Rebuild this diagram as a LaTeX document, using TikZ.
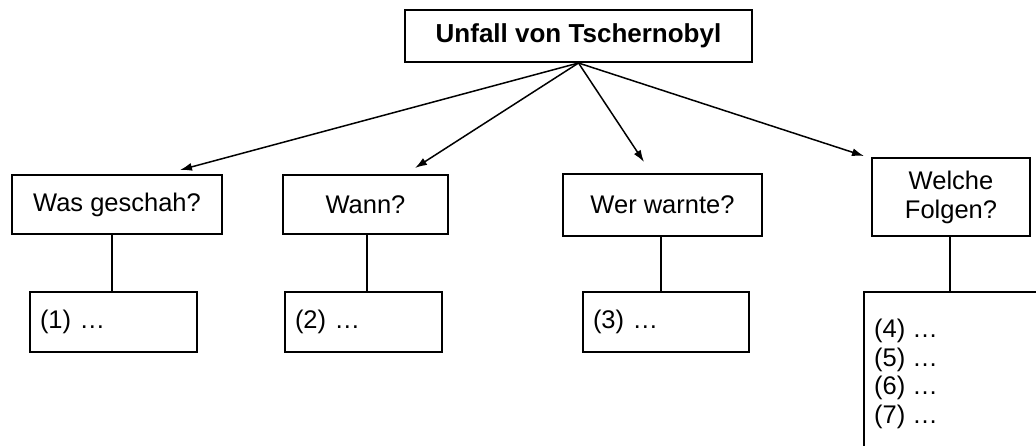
\documentclass[tikz,border=0pt]{standalone}
\usepackage{fontspec}
\setmainfont{Liberation Sans}
\usetikzlibrary{arrows.meta}
\begin{document}
\begin{tikzpicture}[x=1pt,y=-1pt,
  box/.style={draw=black, line width=2pt, inner sep=0pt, fill=white},
  label/.style={font=\fontsize{25.5}{29}\selectfont},
  arr/.style={line width=1.5pt, -{Latex[length=12pt,width=8pt]}},
  link/.style={line width=1.2pt}]
\useasboundingbox (0,0) rectangle (1036,445);
\clip (0,0) rectangle (1036,445);

% title
\node[box, minimum width=347pt, minimum height=52pt,
      font=\fontsize{26}{30}\selectfont\bfseries] (top) at (578.5,36) {Unfall von Tschernobyl};

% question boxes
\node[box, label, minimum width=210pt, minimum height=59pt] (q1) at (117,204.5) {Was geschah?};
\node[box, label, minimum width=165pt, minimum height=59pt] (q2) at (365.5,204.5) {Wann?};
\node[box, label, minimum width=199pt, minimum height=62pt] (q3) at (662.5,205) {Wer warnte?};
\node[box, label, minimum width=158pt, minimum height=78pt, align=center] (q4) at (951,197) {Welche\\Folgen?};

% answer boxes
\node[box, label, minimum width=167pt, minimum height=60pt, text width=147pt, align=left] (a1) at (113.5,322) {(1) \dots};
\node[box, label, minimum width=157pt, minimum height=60pt, text width=137pt, align=left] (a2) at (363.5,322) {(2) \dots};
\node[box, label, minimum width=166pt, minimum height=60pt, text width=146pt, align=left] (a3) at (666,322) {(3) \dots};
\node[box, minimum width=200pt, minimum height=180pt] (a4) at (964,382) {};
\node[label, anchor=north west, align=left, inner sep=0pt,
      font=\fontsize{25.5}{28.5}\selectfont] (a4t) at (874,319) {(4) \dots\\(5) \dots\\(6) \dots\\(7) \dots};

% arrow tips
\coordinate (t1) at (180,170);
\coordinate (t2) at (415,168);
\coordinate (t3) at (644,162);
\coordinate (t4) at (864,156);

\draw[arr] (top.south) -- (t1);
\draw[arr] (top.south) -- (t2);
\draw[arr] (top.south) -- (t3);
\draw[arr] (top.south) -- (t4);

% question to answer links
\draw[link] (q1.south -| a1.north) ++(-1.5,0) coordinate (l1) -- (l1 |- a1.north);
\draw[link] (367,234) coordinate (l2) -- (l2 |- a2.north);
\draw[link] (q3.south) ++(-1.5,0) coordinate (l3) -- (l3 |- a3.north);
\draw[link] (q4.south) ++(-1,0) coordinate (l4) -- (l4 |- a4.north);
\end{tikzpicture}
\end{document}
